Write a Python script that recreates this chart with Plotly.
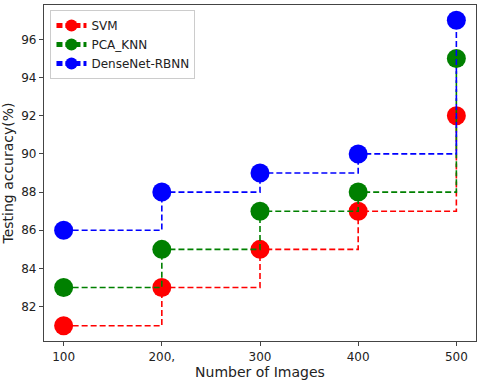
import plotly.graph_objects as go

images = [100, 200, 300, 400, 500]
tick_labels = ["100", "200,", "300", "400", "500"]
svm = [81, 83, 85, 87, 92]
pca_knn = [83, 85, 87, 88, 95]
densenet_rbnn = [86, 88, 89, 90, 97]

series = [
    ("SVM", svm, "red"),
    ("PCA_KNN", pca_knn, "green"),
    ("DenseNet-RBNN", densenet_rbnn, "blue"),
]

fig = go.Figure()
for name, vals, color in series:
    fig.add_trace(go.Scatter(
        x=images, y=vals, name=name, mode="lines+markers",
        line=dict(color=color, width=1.6, dash="6px,3px", shape="hv"),
        marker=dict(color=color, size=19),
    ))

axis_common = dict(
    showgrid=False, zeroline=False, showline=True, mirror=True,
    linecolor="#444", linewidth=1.2, ticks="outside", ticklen=4,
    tickcolor="#444", automargin=False,
    tickfont=dict(family="DejaVu Sans", size=12, color="#222"),
)
fig.update_layout(
    width=480, height=384,
    margin=dict(l=44, r=4, t=5, b=43),
    plot_bgcolor="white", paper_bgcolor="white",
    font=dict(family="DejaVu Sans", size=12, color="#222"),
    xaxis=dict(range=[80, 520], tickvals=images, ticktext=tick_labels,
               title=dict(text="Number of Images", standoff=4), **axis_common),
    yaxis=dict(range=[80.2, 97.8], tickvals=[82, 84, 86, 88, 90, 92, 94, 96],
               title=dict(text="Testing accuracy(%)", standoff=4), **axis_common),
    legend=dict(x=0.015, y=0.985, xanchor="left", yanchor="top",
                bgcolor="rgba(255,255,255,0.8)", bordercolor="#ccc", borderwidth=1,
                font=dict(size=12), itemsizing="constant", tracegroupgap=0),
    showlegend=True,
)

# the page body has a default 8px margin; drop it so the figure sits at 0,0
fig.write_html("out.html", config={"displayModeBar": False},
               post_script="document.body.style.margin='0';")
